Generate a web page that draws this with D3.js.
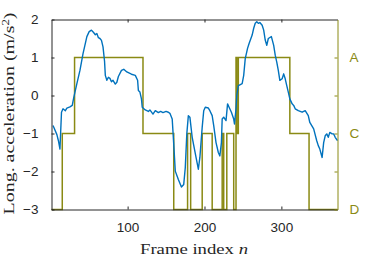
<!DOCTYPE html>
<html>
<head>
<meta charset="utf-8">
<script src="https://cdn.jsdelivr.net/npm/d3@7"></script>
<style>
  body { margin: 0; background: #fff; }
</style>
</head>
<body>
<div id="chart"></div>
<script>
// blue trace: frame index and longitudinal acceleration
const accFrames = [3, 8, 10, 12, 14, 16, 19, 21, 25, 28, 30, 34, 38, 42, 47, 50, 53, 56, 58, 60, 62, 64, 66, 68, 70, 71,
  73, 75, 77, 79, 81, 84, 86, 88, 92, 95, 99, 105, 110, 113, 114, 116, 118, 119, 123, 127, 129, 133, 136, 140, 143, 146,
  150, 153, 155, 158, 160, 162, 166, 170, 173, 175, 177, 179, 181, 184, 189, 192, 194, 197, 199, 201, 205, 207, 210, 212,
  215, 218, 220, 222, 223, 225, 228, 230, 232, 235, 238, 239, 241, 242, 244, 246, 249, 251, 253, 256, 258, 262, 264, 266,
  268, 270, 272, 275, 277, 279, 281, 283, 287, 290, 292, 294, 296, 298, 301, 303, 305, 307, 309, 311, 314, 316, 318, 322,
  327, 331, 335, 337, 342, 346, 348, 350, 353, 355, 357, 359, 361, 363, 366, 368, 370, 373];
const accValues = [-0.79, -1.03, -1.19, -1.41, -0.44, -0.35, -0.40, -0.33, -0.30, -0.26, -0.05, 0.31, 0.66, 1.10, 1.55, 1.68,
  1.72, 1.65, 1.60, 1.63, 1.52, 1.50, 1.45, 1.28, 0.90, 0.53,
  0.40, 0.48, 0.45, 0.36, 0.40, 0.30, 0.35, 0.50, 0.66, 0.69, 0.62, 0.56, 0.53, 0.40, 0.13, 0.09, -0.09, -0.31, -0.38, -0.42,
  -0.38, -0.49, -0.40, -0.45, -0.42, -0.45, -0.42, -0.44, -0.47, -0.62, -1.28, -1.99, -2.21, -2.41, -2.34, -1.90, -1.01,
  -0.53, -0.57, -1.10, -1.63, -1.94, -1.63, -0.84, -0.40, -0.31, -0.33, -0.40, -0.53, -0.79, -1.24, -1.50, -1.59, -1.24,
  -0.62, -0.57, -0.66, -0.22, -0.31, -0.44, -0.62, -0.75, -0.35, 0.00, 0.26, 0.28, 0.31, 0.53, 0.97, 1.24, 1.37, 1.59,
  1.77, 1.90, 1.94, 1.90, 1.92, 1.85, 1.72, 1.46, 1.32, 1.50, 1.55, 1.32, 1.06, 0.88, 0.66, 0.40, 0.44, 0.57, 0.44, 0.26,
  0.09, -0.09, -0.22, -0.26, -0.35, -0.40, -0.44, -0.40, -0.53, -0.71, -0.88, -1.19, -1.32, -1.41, -1.63, -1.24, -1.06,
  -1.01, -1.10, -0.97, -1.01, -1.01, -1.10, -1.19];

// olive step trace: frames where the state changes, and the state level from then on
const stateFrames = [1, 15, 31, 120, 160, 178, 182, 197, 210, 223, 225, 229, 238, 241, 242, 244, 311, 336, 373];
const stateLevels = [-3, -1, 1, -1, -3, -1, -3, -1, -3, -1, -3, -1, -3, 1, -1, 1, -1, -3, -3];

// axis ticks
const xTicks = [100, 200, 300];
const yTicks = [2, 1, 0, -1, -2, -3];
const stateTicks = [1, 0, -1, -2, -3];
const stateTickLabels = ["A", "", "C", "", "D"];

const width = 374, height = 261;
const plot = { left: 51.5, right: 337.5, top: 19.5, bottom: 209.5 };
const blue = "#0072bd", olive = "#8a8a14", dark = "#262626";

const svg = d3.select("#chart").append("svg")
  .attr("width", width)
  .attr("height", height);

const x = d3.scaleLinear().domain([1, 373]).range([plot.left, plot.right]);
const y = d3.scaleLinear().domain([-3, 2]).range([plot.bottom, plot.top]);
const yState = d3.scaleLinear().domain([-3, 2]).range([plot.bottom, plot.top]);

// data lines first, axes drawn over them
const accData = accFrames.map((f, i) => ({ n: f, v: accValues[i] }));
const stateData = stateFrames.map((f, i) => ({ n: f, v: stateLevels[i] }));

svg.append("path")
  .datum(stateData)
  .attr("fill", "none")
  .attr("stroke", olive)
  .attr("stroke-width", 1.5)
  .attr("d", d3.line().curve(d3.curveStepAfter)
    .x(d => x(d.n))
    .y(d => yState(d.v)));

svg.append("path")
  .datum(accData)
  .attr("fill", "none")
  .attr("stroke", blue)
  .attr("stroke-width", 1.4)
  .attr("stroke-linejoin", "round")
  .attr("d", d3.line()
    .x(d => x(d.n))
    .y(d => y(d.v)));

const tickFont = "'Liberation Sans', Arial, sans-serif";

function styleAxis(g, color) {
  g.select(".domain").attr("stroke", color);
  g.selectAll(".tick line").attr("stroke", color);
  g.selectAll(".tick text")
    .attr("fill", color)
    .style("font-family", tickFont)
    .style("font-size", "13.5px");
}

// bottom axis, ticks pointing in
svg.append("g")
  .attr("transform", `translate(0,${plot.bottom})`)
  .call(d3.axisBottom(x).tickValues(xTicks).tickSizeInner(-3).tickSizeOuter(0).tickPadding(13))
  .call(g => styleAxis(g, dark));

// top axis, no labels
svg.append("g")
  .attr("transform", `translate(0,${plot.top})`)
  .call(d3.axisTop(x).tickValues(xTicks).tickSizeInner(-3).tickSizeOuter(0).tickFormat(""))
  .call(g => styleAxis(g, dark));

// left axis
svg.append("g")
  .attr("transform", `translate(${plot.left},0)`)
  .call(d3.axisLeft(y).tickValues(yTicks).tickSizeInner(-3).tickSizeOuter(0).tickPadding(13).tickFormat(d3.format("d")))
  .call(g => styleAxis(g, dark));

// right axis for the states
svg.append("g")
  .attr("transform", `translate(${plot.right},0)`)
  .call(d3.axisRight(yState).tickValues(stateTicks).tickSizeInner(-3).tickSizeOuter(0).tickPadding(12)
    .tickFormat((d, i) => stateTickLabels[i]))
  .call(g => styleAxis(g, olive));

// axis titles (stretched to the width of the LaTeX labels)
const serif = "'Liberation Serif', 'Times New Roman', serif";

svg.append("text")
  .attr("x", 194)
  .attr("y", 254)
  .attr("text-anchor", "middle")
  .attr("textLength", 108)
  .attr("lengthAdjust", "spacingAndGlyphs")
  .style("font-family", serif)
  .style("font-size", "15.5px")
  .attr("fill", dark)
  .html("Frame index <tspan font-style='italic'>n</tspan>");

svg.append("text")
  .attr("transform", "translate(14,113.5) rotate(-90)")
  .attr("text-anchor", "middle")
  .attr("textLength", 202)
  .attr("lengthAdjust", "spacingAndGlyphs")
  .style("font-family", serif)
  .style("font-size", "15.5px")
  .attr("fill", dark)
  .html("Long. acceleration (m/s<tspan baseline-shift='super' font-size='10px'>2</tspan>)");
</script>
</body>
</html>
